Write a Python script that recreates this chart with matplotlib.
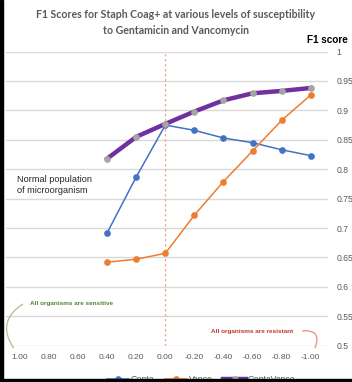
import matplotlib
matplotlib.use("Agg")
import matplotlib.pyplot as plt
from matplotlib.patches import Rectangle

susceptibility = [0.40, 0.20, 0.00, -0.20, -0.40, -0.60, -0.80, -1.00]
genta = [0.692, 0.787, 0.875, 0.866, 0.853, 0.845, 0.833, 0.823]
vanco = [0.642, 0.647, 0.657, 0.722, 0.779, 0.831, 0.883, 0.926]
gentavanco = [0.818, 0.855, 0.877, 0.898, 0.917, 0.929, 0.933, 0.938]
x_ticks = [1.00, 0.80, 0.60, 0.40, 0.20, 0.00, -0.20, -0.40, -0.60, -0.80, -1.00]
y_ticks = [0.5, 0.55, 0.6, 0.65, 0.7, 0.75, 0.8, 0.85, 0.9, 0.95, 1.0]
y_labels = ["0.5", "0.55", "0.6", "0.65", "0.7", "0.75", "0.8", "0.85", "0.9", "0.95", "1"]

W, H = 352, 382
fig = plt.figure(figsize=(W / 100, H / 100), dpi=100)
ax = fig.add_axes([6 / W, 1 - 345.7 / H, (328 - 6) / W, (345.7 - 51.5) / H])

gray = "#595959"
ax.set_xlim(1.0963, -1.119)
ax.set_ylim(0.5, 1.0)
ax.set_xticks(x_ticks)
ax.set_xticklabels([f"{v:.2f}" for v in x_ticks], fontsize=6, color=gray, family="Liberation Sans")
ax.yaxis.tick_right()
ax.set_yticks(y_ticks)
ax.set_yticklabels(y_labels, fontsize=6.2, color=gray, family="Liberation Sans")
ax.tick_params(length=0, pad=6)
for s in ax.spines.values():
    s.set_visible(False)
ax.grid(axis="y", color="#d9d9d9", linewidth=1)
ax.set_axisbelow(True)

ax.axvline(0.0, color="#f5a68a", linestyle=(0, (2, 2)), linewidth=0.9, zorder=1)

ax.plot(susceptibility, genta, color="#4472C4", linewidth=1.1, marker="o",
        markersize=3.8, label="Genta", zorder=3)
ax.plot(susceptibility, vanco, color="#ED7D31", linewidth=1.1, marker="o",
        markersize=3.8, label="Vanco", zorder=3)
ax.plot(susceptibility, gentavanco, color="#7030A0", linewidth=3.2, marker="o",
        markersize=3.8, markerfacecolor="#A5A5A5", markeredgecolor="#A5A5A5",
        label="GentaVanco", zorder=4)

fig.text(176 / W, 1 - 15 / H, "F1 Scores for Staph Coag+ at various levels of susceptibility",
         ha="center", va="center", fontsize=7.6, fontweight="bold", color=gray, family="Lato")
fig.text(176 / W, 1 - 30 / H, "to Gentamicin and Vancomycin",
         ha="center", va="center", fontsize=7.6, fontweight="bold", color=gray, family="Lato")
fig.text(327 / W, 1 - 40 / H, "F1 score", ha="center", va="center", fontsize=7.2,
         fontweight="bold", color="black", family="Liberation Sans")

fig.text(17 / W, 1 - 185 / H, "Normal population\nof microorganism", ha="left", va="center",
         fontsize=6.6, color="#262626", family="Liberation Sans", linespacing=1.15)

fig.text(30 / W, 1 - 303 / H, "All organisms are sensitive", ha="left", va="center",
         fontsize=4.6, fontweight="bold", color="#548235", family="Liberation Sans")
fig.text(252 / W, 1 - 331.5 / H, "All organisms are resistant", ha="center", va="center",
         fontsize=4.6, fontweight="bold", color="#C0392B", family="Liberation Sans")

ax.annotate("", xy=(1.034, 0.4924), xytext=(0.9656, 0.5730),
            arrowprops=dict(arrowstyle="-", color="#a9c18e", lw=0.9,
                            connectionstyle="arc3,rad=0.55"), annotation_clip=False)
ax.annotate("", xy=(-1.0227, 0.4924), xytext=(-0.926, 0.5247),
            arrowprops=dict(arrowstyle="-", color="#f08a78", lw=0.9,
                            connectionstyle="arc3,rad=-0.9"), annotation_clip=False)

leg = fig.legend(loc="center", bbox_to_anchor=(201 / W, 1 - 379.5 / H), ncol=3, frameon=False,
                 handlelength=2.6, columnspacing=1.2, handletextpad=0.2,
                 labelcolor=gray, prop={"family": "Liberation Sans", "size": 6.2})

fig.patches.append(Rectangle((0, 0), 2.5 / W, 1, transform=fig.transFigure,
                             color="black", zorder=10))
fig.patches.append(Rectangle((0, 0), 1, 3 / H, transform=fig.transFigure,
                             color="black", zorder=10))

fig.savefig("out.png", dpi=100)
